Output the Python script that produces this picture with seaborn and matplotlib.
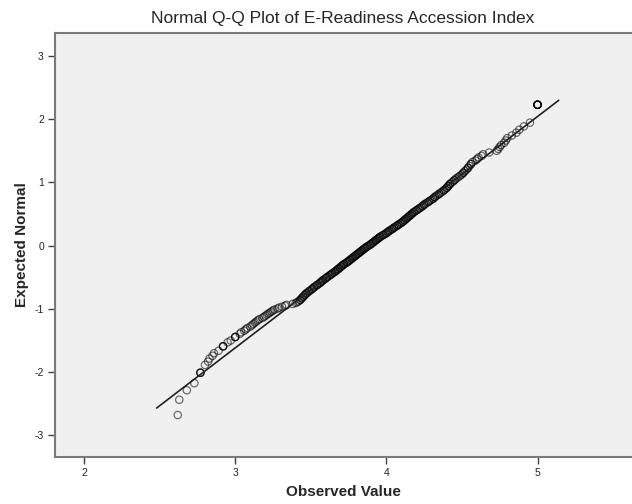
import pandas as pd
import seaborn as sns
import matplotlib.pyplot as plt
from statistics import NormalDist

lower_tail = [2.62, 2.63, 2.68, 2.73, 2.77, 2.77, 2.77, 2.80, 2.82, 2.83, 2.85, 2.86,
              2.89, 2.92, 2.92, 2.92, 2.95, 2.97, 3.00, 3.00, 3.00,
              3.03, 3.04, 3.06, 3.07, 3.08, 3.10, 3.11, 3.12, 3.13, 3.14, 3.15, 3.16,
              3.18, 3.19, 3.20, 3.21, 3.22, 3.23, 3.24, 3.25, 3.26, 3.28, 3.29, 3.31,
              3.33, 3.34, 3.38, 3.40, 3.41, 3.42, 3.43, 3.43, 3.44, 3.44, 3.45]
middle = [3.45, 3.46, 3.46, 3.47, 3.47, 3.48, 3.49, 3.49, 3.50, 3.51, 3.51, 3.52, 3.52, 3.53,
          3.54, 3.54, 3.55, 3.56, 3.56, 3.57, 3.57, 3.58, 3.58, 3.59, 3.60, 3.60, 3.61, 3.61,
          3.62, 3.63, 3.63, 3.64, 3.64, 3.65, 3.66, 3.66, 3.67, 3.67, 3.68, 3.68, 3.69, 3.69,
          3.70, 3.70, 3.71, 3.71, 3.72, 3.72, 3.73, 3.74, 3.74, 3.75, 3.75, 3.76, 3.76, 3.77,
          3.77, 3.78, 3.78, 3.79, 3.79, 3.80, 3.80, 3.81, 3.81, 3.82, 3.82, 3.83, 3.83, 3.84,
          3.84, 3.85, 3.85, 3.86, 3.86, 3.87, 3.87, 3.88, 3.89, 3.89, 3.90, 3.90, 3.91, 3.91,
          3.92, 3.92, 3.93, 3.93, 3.94, 3.94, 3.95, 3.95, 3.96, 3.96, 3.97, 3.98, 3.98, 3.99,
          4.00, 4.00, 4.01, 4.01, 4.02, 4.02, 4.03, 4.04, 4.04, 4.05, 4.05, 4.06, 4.07, 4.07,
          4.08, 4.08, 4.09, 4.10, 4.10, 4.11, 4.11, 4.12, 4.12, 4.13, 4.13, 4.14, 4.14, 4.15,
          4.15, 4.16, 4.16, 4.17, 4.17, 4.18, 4.18, 4.19, 4.20, 4.20, 4.21, 4.22, 4.22, 4.23,
          4.24, 4.24, 4.25, 4.25, 4.26, 4.27, 4.28, 4.28, 4.29, 4.30, 4.31, 4.31, 4.32, 4.32,
          4.33, 4.34, 4.35, 4.35, 4.36, 4.37, 4.38, 4.38, 4.39, 4.40, 4.40, 4.41, 4.41, 4.42,
          4.42, 4.43, 4.44, 4.45, 4.45, 4.46, 4.47, 4.48, 4.49, 4.50, 4.51, 4.51, 4.52, 4.53,
          4.54, 4.54, 4.55, 4.56, 4.56, 4.57, 4.59, 4.60, 4.61, 4.63, 4.64, 4.68]
upper_tail = [4.73, 4.74, 4.75, 4.76, 4.78, 4.79, 4.80, 4.83, 4.86, 4.88, 4.91, 4.95,
              5.00, 5.00, 5.00, 5.00, 5.00, 5.00]

# reference line (mean and sd as drawn)
line_x = [2.48, 5.14]
line_mean = 3.884
line_sd = 0.547

observed = pd.Series(lower_tail + middle + upper_tail)
n = len(observed)
ranks = observed.rank(method="average")
expected = [NormalDist().inv_cdf(r / (n + 1)) for r in ranks]
df = pd.DataFrame({"observed": observed, "expected": expected})
line_df = pd.DataFrame({"x": line_x, "y": [(v - line_mean) / line_sd for v in line_x]})

sns.set_style("ticks", {"axes.facecolor": "#f0f0f0"})
plt.rcParams["font.family"] = ["Liberation Sans", "DejaVu Sans"]
plt.rcParams["axes.unicode_minus"] = False

fig = plt.figure(figsize=(6.32, 5.04), dpi=100)
ax = fig.add_axes([55 / 632, 47 / 504, 1 - 55 / 632, 424 / 504])

sns.lineplot(data=line_df, x="x", y="y", color="#202020", linewidth=1.2, ax=ax)
sns.scatterplot(data=df, x="observed", y="expected", s=28, marker="o",
                facecolors="none", edgecolor="#000000", linewidth=0.9, alpha=0.55, ax=ax)

ax.set_xlim(1.808, 5.625)
ax.set_ylim(-3.34, 3.36)
ax.set_xticks([2, 3, 4, 5])
ax.set_yticks([-3, -2, -1, 0, 1, 2, 3])
ax.tick_params(direction="out", length=5, width=1, color="#404040",
               labelsize=7.5, labelcolor="#222222", pad=3)
ax.tick_params(axis="x", pad=3)
for side in ["left", "bottom", "top"]:
    ax.spines[side].set_color("#7a7a7a")
    ax.spines[side].set_linewidth(1.5)
ax.spines["right"].set_visible(False)

ax.set_xlabel("Observed Value", fontsize=11, fontweight="bold", labelpad=5)
ax.set_ylabel("Expected Normal", fontsize=11, fontweight="bold", labelpad=4)
fig.text(343 / 632, 1 - 18 / 504, "Normal Q-Q Plot of E-Readiness Accession Index",
         ha="center", va="center", fontsize=12.5)

fig.savefig("out.png", dpi=100)
